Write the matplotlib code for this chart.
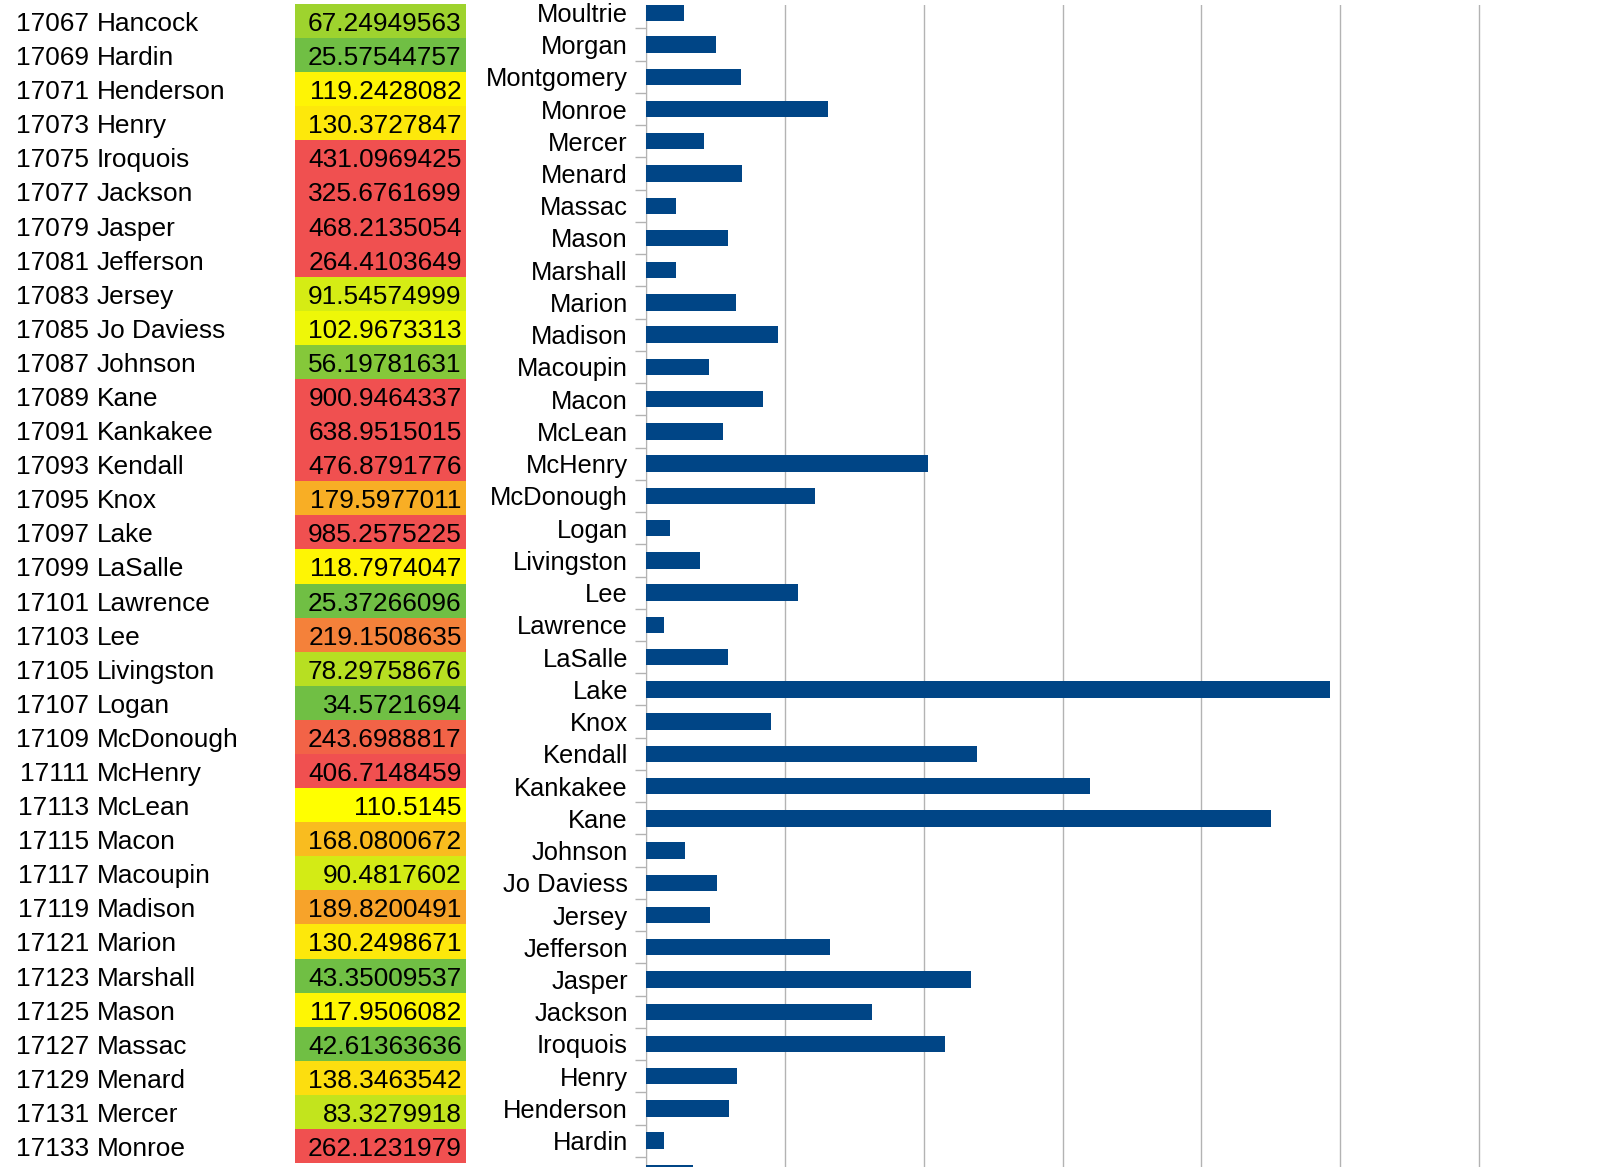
import matplotlib
matplotlib.use("Agg")
import matplotlib.pyplot as plt
import numpy as np
from matplotlib.colors import LinearSegmentedColormap, Normalize
from matplotlib.patches import Rectangle

# table rows: FIPS code, county, value
fips = [17067, 17069, 17071, 17073, 17075, 17077, 17079, 17081, 17083, 17085,
        17087, 17089, 17091, 17093, 17095, 17097, 17099, 17101, 17103, 17105,
        17107, 17109, 17111, 17113, 17115, 17117, 17119, 17121, 17123, 17125,
        17127, 17129, 17131, 17133]
counties = ["Hancock", "Hardin", "Henderson", "Henry", "Iroquois", "Jackson",
            "Jasper", "Jefferson", "Jersey", "Jo Daviess", "Johnson", "Kane",
            "Kankakee", "Kendall", "Knox", "Lake", "LaSalle", "Lawrence", "Lee",
            "Livingston", "Logan", "McDonough", "McHenry", "McLean", "Macon",
            "Macoupin", "Madison", "Marion", "Marshall", "Mason", "Massac",
            "Menard", "Mercer", "Monroe"]
values = ["67.24949563", "25.57544757", "119.2428082", "130.3727847",
          "431.0969425", "325.6761699", "468.2135054", "264.4103649",
          "91.54574999", "102.9673313", "56.19781631", "900.9464337",
          "638.9515015", "476.8791776", "179.5977011", "985.2575225",
          "118.7974047", "25.37266096", "219.1508635", "78.29758676",
          "34.5721694", "243.6988817", "406.7148459", "110.5145",
          "168.0800672", "90.4817602", "189.8200491", "130.2498671",
          "43.35009537", "117.9506082", "42.61363636", "138.3463542",
          "83.3279918", "262.1231979"]

# counties below the visible table rows, only seen as bars
extra_counties = ["Montgomery", "Morgan", "Moultrie"]
extra_values = [137.0, 101.0, 55.0]

W, H = 1599, 1167
plt.rcParams['font.family'] = ['Liberation Sans', 'DejaVu Sans']
FS_TAB = 18.9
FS_BAR = 18.4

fig = plt.figure(figsize=(W / 100, H / 100), dpi=100)

# green - yellow - red colour scale of the value column
scale = LinearSegmentedColormap.from_list(
    "scale", [(0.0, "#70bf44"), (0.294, "#ffff00"), (1.0, "#f05050")])
norm = Normalize(47, 261, clip=True)

# ---- left: the table ----
row_top, row_h = 4, 34.09
nrows = len(counties)
tab = fig.add_axes([0, (H - row_top - nrows * row_h) / H, 646 / W,
                    nrows * row_h / H])
tab.set_xlim(0, 646)
tab.set_ylim(nrows, 0)
tab.axis("off")
base = 27 / row_h
for i, (code, name, val) in enumerate(zip(fips, counties, values)):
    tab.add_patch(Rectangle((295, i), 171, 1, facecolor=scale(norm(float(val))),
                            edgecolor="none"))
    tab.text(89.5, i + base, str(code), ha="right", va="baseline",
             fontsize=FS_TAB)
    tab.text(97, i + base, name, ha="left", va="baseline", fontsize=FS_TAB)
    tab.text(461.7, i + base, val, ha="right", va="baseline", fontsize=FS_TAB)

# ---- right: the bar chart (reverse alphabetical from top) ----
bar_names = (counties + extra_counties)[::-1]
bar_values = ([float(v) for v in values] + extra_values)[::-1]
n = len(bar_names)
pos = np.arange(n)

top_px, step, first_c = 5, 32.24, 12.3
ax = fig.add_axes([646 / W, 0, (W - 646) / W, (H - top_px) / H])
ax.barh(pos, bar_values, height=0.51, color="#004586", zorder=3)
ax.set_xticks(np.arange(0, 1201, 200))
ax.grid(axis="x", color="#b3b3b3", linewidth=1)
ax.set_axisbelow(True)
ax.tick_params(axis="x", length=0, labelbottom=False)

ax.set_yticks(pos)
ax.set_yticklabels(bar_names, fontsize=FS_BAR)
ax.set_yticks(pos + 0.5, minor=True)
ax.tick_params(axis="y", which="major", length=0, pad=13)
ax.tick_params(axis="y", which="minor", length=8, width=1, color="#b3b3b3")

# 1200 sits at x = 1479 px; the chart runs on past the right edge
ax.set_xlim(0, 1200 * (W - 646) / (1479 - 646))
ax.set_ylim((H - first_c) / step, (top_px - first_c) / step)

for s in ["top", "right", "bottom"]:
    ax.spines[s].set_visible(False)
ax.spines["left"].set_color("#b3b3b3")

fig.savefig("out.png", dpi=100)
